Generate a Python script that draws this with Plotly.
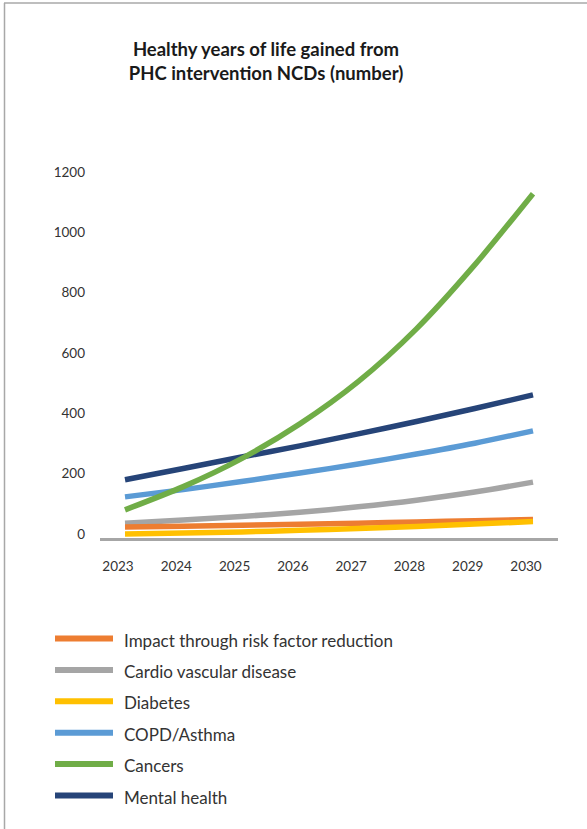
import plotly.graph_objects as go

# Healthy years of life gained from PHC interventions for NCDs, 2023-2030
years = [2023, 2024, 2025, 2026, 2027, 2028, 2029, 2030]

risk_factor = [23, 26, 29, 32, 36, 40, 44, 48]
cardio = [36, 46, 58, 72, 90, 112, 139, 172]
diabetes = [0, 3, 7, 12, 18, 25, 33, 41]
copd = [123, 147, 174, 202, 232, 265, 301, 342]
cancers = [80, 157, 250, 365, 505, 680, 892, 1128]
mental = [180, 217, 255, 292, 332, 373, 416, 461]

series_names = [
    "Impact through risk factor reduction",
    "Cardio vascular disease",
    "Diabetes",
    "COPD/Asthma",
    "Cancers",
    "Mental health",
]
series_values = [risk_factor, cardio, diabetes, copd, cancers, mental]
series_colors = ["#ED7D31", "#A5A5A5", "#FFC000", "#5B9BD5", "#70AD47", "#264478"]

y_ticks = [0, 200, 400, 600, 800, 1000, 1200]

W, H = 587, 829
L, R, T, B = 100, 29, 172, 291
PW, PH = W - L - R, H - T - B


def px_x(px):
    return (px - L) / PW


def px_y(py):
    return (H - B - py) / PH


FONT = "Lato, 'Open Sans', sans-serif"
TEXT = "#333333"

fig = go.Figure()

# draw order: cancers last so it sits on top where it crosses mental health
draw_order = [1, 0, 2, 3, 5, 4]
for i in draw_order:
    fig.add_trace(
        go.Scatter(
            x=years,
            y=series_values[i],
            name=series_names[i],
            mode="lines",
            line=dict(color=series_colors[i], width=5.5, shape="spline", smoothing=0.8),
            showlegend=False,
            hoverinfo="x+y+name",
        )
    )

x_pad = 25 / (408 / 7)
fig.update_xaxes(
    range=[years[0] - x_pad, years[-1] + x_pad],
    tickmode="array",
    tickvals=years,
    ticktext=[str(y) for y in years],
    showgrid=False,
    zeroline=False,
    showline=True,
    linecolor="#A6A6A6",
    linewidth=3,
    ticks="",
    ticklabelshift=-7,
    ticklabelstandoff=14,
    tickfont=dict(family=FONT, size=13.5, color=TEXT),
    fixedrange=True,
)
fig.update_yaxes(
    range=[-13.3, 1200],
    tickmode="array",
    tickvals=y_ticks,
    ticktext=[str(v) for v in y_ticks],
    showgrid=False,
    zeroline=False,
    showline=False,
    ticks="",
    ticklabelstandoff=14,
    tickfont=dict(family=FONT, size=13.5, color=TEXT),
    fixedrange=True,
)

# legend drawn as swatch lines with labels below the plot
shapes = []
annotations = []
legend_top = 638.5
legend_step = 31.4
for k, (name, color) in enumerate(zip(series_names, series_colors)):
    yy = legend_top + k * legend_step
    shapes.append(
        dict(
            type="line",
            xref="paper",
            yref="paper",
            x0=px_x(55),
            x1=px_x(113),
            y0=px_y(yy),
            y1=px_y(yy),
            line=dict(color=color, width=6),
        )
    )
    annotations.append(
        dict(
            text=name,
            xref="paper",
            yref="paper",
            x=px_x(122),
            y=px_y(yy + 1.5),
            xanchor="left",
            yanchor="middle",
            showarrow=False,
            font=dict(family=FONT, size=17, color=TEXT),
        )
    )

# frame lines along the top and left edges
frame = dict(color="#A8A8A8", width=1.5)
shapes.append(dict(type="line", xref="paper", yref="paper",
                   x0=px_x(4), x1=px_x(W), y0=px_y(3), y1=px_y(3), line=frame))
shapes.append(dict(type="line", xref="paper", yref="paper",
                   x0=px_x(4.5), x1=px_x(4.5), y0=px_y(3), y1=px_y(H), line=frame))

fig.update_layout(
    width=W,
    height=H,
    margin=dict(l=L, r=R, t=T, b=B, pad=0),
    paper_bgcolor="white",
    plot_bgcolor="white",
    title=dict(
        text="<b>Healthy years of life gained from<br>PHC intervention NCDs (number)</b>",
        x=266 / W,
        xanchor="center",
        xref="container",
        y=1 - 56 / H,
        yanchor="top",
        yref="container",
        font=dict(family=FONT, size=18.5, color="#1A1A1A"),
    ),
    shapes=shapes,
    annotations=annotations,
    showlegend=False,
)

fig.write_html("out.html")
